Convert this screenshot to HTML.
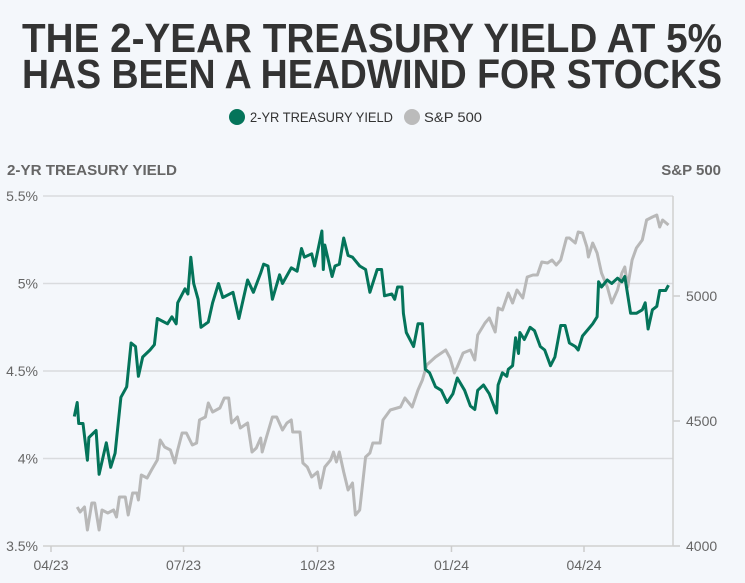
<!DOCTYPE html>
<html><head><meta charset="utf-8"><style>
html,body{margin:0;padding:0;background:#f4f7fb;}
svg{display:block;font-family:"Liberation Sans",sans-serif;}
</style></head><body>
<svg id="chart" width="745" height="583" viewBox="0 0 745 583">
<rect width="745" height="583" fill="#f4f7fb"/>
<text x="22" y="52" font-size="41" font-weight="bold" fill="#333" textLength="700" lengthAdjust="spacingAndGlyphs">THE 2-YEAR TREASURY YIELD AT 5%</text>
<text x="22" y="88" font-size="41" font-weight="bold" fill="#333" textLength="700" lengthAdjust="spacingAndGlyphs">HAS BEEN A HEADWIND FOR STOCKS</text>
<g>
<g><circle cx="237" cy="117" r="8" fill="#04745a"/><text x="250" y="122" font-size="14" fill="#333" textLength="143" lengthAdjust="spacingAndGlyphs">2-YR TREASURY YIELD</text></g>
<g><circle cx="412" cy="117" r="8" fill="#bbbbbb"/><text x="424" y="122" font-size="14" fill="#333" textLength="58" lengthAdjust="spacingAndGlyphs">S&amp;P 500</text></g>
</g>
<text x="7" y="175" font-size="15" font-weight="bold" fill="#666" textLength="170" lengthAdjust="spacingAndGlyphs">2-YR TREASURY YIELD</text>
<text x="721" y="175" font-size="15" font-weight="bold" fill="#666" text-anchor="end">S&amp;P 500</text>
<g id="grid"></g><g id="axes"></g><g id="series"></g>
</svg>
<script>
const yieldDays=[16,18,19,22,25,26,31,33,38,41,44,48,52,55,58,60,63,68,71,73,80,83,86,87,92,94,96,98,101,103,108,111,115,118,125,129,135,139,144,146,149,152,157,159,165,169,172,174,179,181,186,187,188,193,195,198,201,204,207,212,216,219,224,227,229,234,236,238,241,242,244,249,252,255,257,260,264,268,272,276,279,284,288,291,293,297,301,306,307,310,313,314,317,319,321,322,325,329,332,336,339,343,346,350,353,356,360,362,365,369,372,375,376,378,382,385,389,392,394,398,402,406,408,410,413,416,418,422,424];
const yieldValues=[4.24,4.32,4.20,4.20,3.99,4.12,4.16,3.91,4.09,3.95,4.03,4.35,4.41,4.66,4.64,4.47,4.58,4.62,4.65,4.80,4.77,4.81,4.77,4.89,4.97,4.94,5.15,5.00,4.91,4.75,4.78,4.89,5.00,4.92,4.95,4.80,5.02,4.95,5.06,5.11,5.10,4.91,5.05,5.00,5.09,5.07,5.20,5.15,5.17,5.10,5.30,5.08,5.22,5.04,5.10,5.11,5.26,5.16,5.15,5.10,5.08,4.95,5.08,5.08,4.93,4.94,4.91,4.98,4.98,4.83,4.72,4.64,4.77,4.77,4.51,4.49,4.41,4.39,4.32,4.37,4.46,4.39,4.30,4.28,4.39,4.42,4.37,4.26,4.42,4.49,4.47,4.51,4.53,4.69,4.60,4.72,4.68,4.75,4.73,4.64,4.62,4.53,4.58,4.76,4.76,4.66,4.64,4.62,4.70,4.74,4.77,4.81,5.01,4.98,5.02,5.00,5.03,5.01,5.04,4.83,4.83,4.85,4.89,4.74,4.85,4.87,4.96,4.96,4.99];
const spDays=[18,20,23,25,28,30,33,35,39,43,45,47,51,53,56,59,60,62,66,69,73,75,78,82,85,87,90,93,97,100,102,106,108,111,116,119,122,124,128,130,135,138,141,144,145,148,152,155,159,162,165,166,171,173,176,179,183,185,188,192,194,196,198,201,204,207,209,212,216,219,221,226,228,233,240,243,248,252,255,258,264,271,274,277,279,283,288,291,293,298,301,305,307,310,314,317,320,324,327,331,334,337,341,344,347,350,354,356,360,362,365,368,369,372,375,378,382,385,389,392,394,396,399,402,406,409,413,416,418,420,424];
const spValues=[4156,4136,4156,4064,4172,4172,4064,4144,4132,4144,4116,4196,4196,4124,4212,4212,4184,4284,4272,4304,4344,4424,4396,4384,4332,4384,4452,4452,4404,4412,4504,4516,4572,4536,4552,4592,4592,4492,4516,4472,4492,4376,4392,4432,4376,4436,4516,4516,4464,4492,4504,4456,4456,4332,4316,4276,4296,4232,4316,4344,4376,4336,4376,4296,4224,4252,4124,4144,4356,4372,4412,4412,4504,4544,4556,4592,4556,4624,4664,4724,4756,4784,4752,4692,4716,4772,4784,4744,4844,4892,4912,4856,4952,4944,5012,4972,5024,4992,5076,5084,5084,5136,5132,5144,5124,5144,5232,5232,5212,5256,5252,5196,5156,5212,5172,5092,5036,4972,5024,5092,5116,5036,5144,5192,5224,5304,5316,5324,5276,5304,5284];
const yieldTicks=[3.5,4,4.5,5,5.5];
const yieldTickLabels=["3.5%","4%","4.5%","5%","5.5%"];
const spTicks=[4000,4500,5000];
const spTickLabels=["4000","4500","5000"];
const xTickDays=[0,91,183,275,366];
const xTickLabels=["04/23","07/23","10/23","01/24","04/24"];

const NS="http://www.w3.org/2000/svg";
const L=43,R=673,T=196,B=546;
const xs=d=>51+d*533/366;
const yl=v=>B-(v-3.5)/2*(B-T);
const yr=v=>B-(v-4000)/1400*(B-T);
function mk(tag,attrs,parent){const e=document.createElementNS(NS,tag);for(const k in attrs)e.setAttribute(k,attrs[k]);parent.appendChild(e);return e;}
const grid=document.getElementById('grid'),axes=document.getElementById('axes'),series=document.getElementById('series');
yieldTicks.forEach((v,i)=>{
  if(v>3.5){const g=mk('line',{x1:L,x2:R,y1:yl(v),y2:yl(v),stroke:'#d9dbde','stroke-width':1.5},grid);
  
  }
  const t=mk('text',{x:38,y:yl(v)+5,'font-size':14,fill:'#666','text-anchor':'end'},axes);t.textContent=yieldTickLabels[i];
  
  
});
spTicks.forEach((v,i)=>{
  const tk=mk('line',{x1:R,x2:680,y1:yr(v),y2:yr(v),stroke:'#ccc','stroke-width':1.5},axes);
  
  
  const t=mk('text',{x:686,y:yr(v)+5,'font-size':14,fill:'#666'},axes);t.textContent=spTickLabels[i];
  
  
});
const ra=mk('line',{x1:R,x2:R,y1:T,y2:B,stroke:'#d0d0d0','stroke-width':1.5},axes);


const xa=mk('line',{x1:L,x2:R,y1:B,y2:B,stroke:'#d0d0d0','stroke-width':1.5},axes);


xTickDays.forEach((d,i)=>{
  const tk=mk('line',{x1:xs(d),x2:xs(d),y1:B,y2:B+6,stroke:'#ccc','stroke-width':1.5},axes);
  
  
  const t=mk('text',{x:xs(d),y:570,'font-size':14,fill:'#666','text-anchor':'middle'},axes);t.textContent=xTickLabels[i];
  
  
});
const sp=mk('path',{d:spDays.map((d,i)=>(i?'L':'M')+xs(d).toFixed(1)+','+yr(spValues[i]).toFixed(1)).join(''),fill:'none',stroke:'#b8b8b8','stroke-width':3,'stroke-linejoin':'round'},series);


const yp=mk('path',{d:yieldDays.map((d,i)=>(i?'L':'M')+xs(d).toFixed(1)+','+yl(yieldValues[i]).toFixed(1)).join(''),fill:'none',stroke:'#04745a','stroke-width':3,'stroke-linejoin':'round'},series);


</script>
</body></html>
